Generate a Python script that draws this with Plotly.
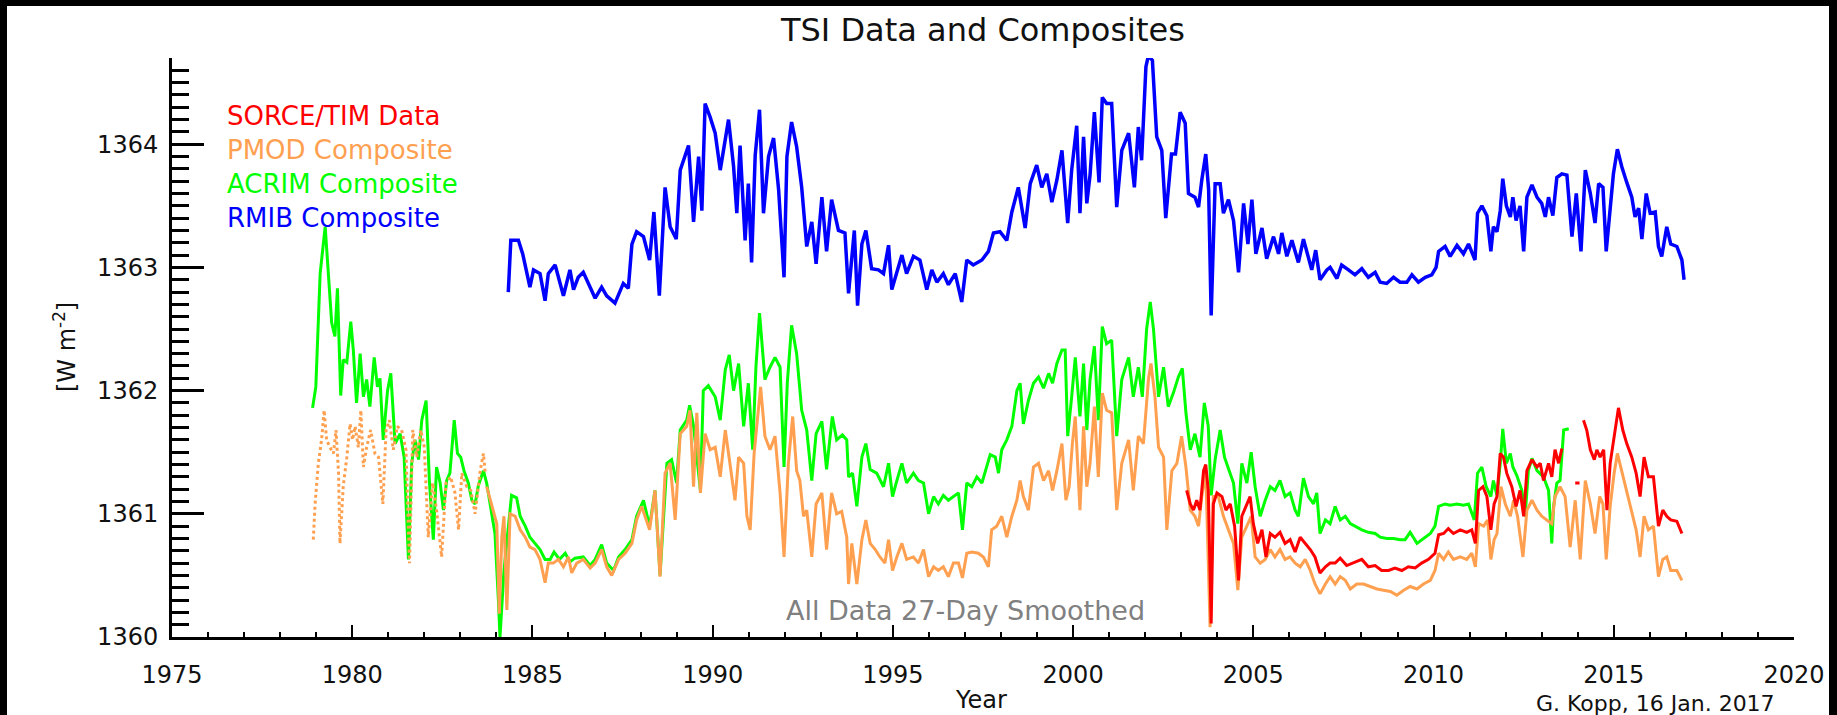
import plotly.graph_objects as go

# ---------------------------------------------------------------- data (W m^-2)
RMIB_YEAR = [1984.33, 1984.40, 1984.61, 1984.73, 1984.93, 1985.03, 1985.21, 1985.35, 1985.44, 1985.63,
             1985.86, 1986.04, 1986.14, 1986.27, 1986.41, 1986.60, 1986.74, 1986.92, 1987.06, 1987.29,
             1987.52, 1987.66, 1987.76, 1987.89, 1988.08, 1988.25, 1988.37, 1988.52, 1988.68, 1988.82,
             1988.99, 1989.10, 1989.33, 1989.47, 1989.61, 1989.70, 1989.79, 1989.93, 1990.07, 1990.21,
             1990.44, 1990.58, 1990.67, 1990.76, 1990.90, 1990.99, 1991.08, 1991.18, 1991.30, 1991.41,
             1991.55, 1991.69, 1991.83, 1991.98, 1992.06, 1992.19, 1992.33, 1992.47, 1992.61, 1992.75,
             1992.87, 1993.03, 1993.16, 1993.30, 1993.49, 1993.67, 1993.77, 1993.93, 1994.02, 1994.14,
             1994.25, 1994.41, 1994.60, 1994.74, 1994.88, 1994.97, 1995.11, 1995.25, 1995.38, 1995.57,
             1995.75, 1995.94, 1996.08, 1996.22, 1996.40, 1996.54, 1996.73, 1996.91, 1997.05, 1997.23,
             1997.47, 1997.65, 1997.79, 1997.97, 1998.16, 1998.30, 1998.48, 1998.67, 1998.81, 1998.99,
             1999.13, 1999.27, 1999.41, 1999.55, 1999.69, 1999.85, 1999.96, 2000.10, 2000.19, 2000.29,
             2000.38, 2000.47, 2000.59, 2000.72, 2000.81, 2000.93, 2001.07, 2001.21, 2001.35, 2001.54,
             2001.70, 2001.81, 2001.90, 2002.02, 2002.09, 2002.20, 2002.32, 2002.46, 2002.57, 2002.73,
             2002.84, 2002.97, 2003.11, 2003.20, 2003.38, 2003.48, 2003.57, 2003.68, 2003.76, 2003.83,
             2003.94, 2004.08, 2004.17, 2004.31, 2004.45, 2004.59, 2004.73, 2004.85, 2004.96, 2005.07,
             2005.24, 2005.37, 2005.56, 2005.70, 2005.79, 2005.93, 2006.07, 2006.25, 2006.39, 2006.53,
             2006.62, 2006.73, 2006.85, 2007.04, 2007.13, 2007.32, 2007.45, 2007.64, 2007.82, 2008.01,
             2008.19, 2008.38, 2008.52, 2008.70, 2008.89, 2009.07, 2009.26, 2009.40, 2009.58, 2009.77,
             2009.95, 2010.07, 2010.14, 2010.32, 2010.46, 2010.65, 2010.83, 2010.97, 2011.15, 2011.22,
             2011.34, 2011.48, 2011.59, 2011.66, 2011.76, 2011.85, 2011.92, 2012.02, 2012.13, 2012.20,
             2012.29, 2012.40, 2012.50, 2012.59, 2012.73, 2012.87, 2013.00, 2013.10, 2013.19, 2013.31,
             2013.42, 2013.56, 2013.70, 2013.84, 2013.96, 2014.09, 2014.21, 2014.35, 2014.48, 2014.58,
             2014.70, 2014.79, 2014.90, 2014.99, 2015.10, 2015.22, 2015.36, 2015.50, 2015.59, 2015.69,
             2015.78, 2015.90, 2016.01, 2016.15, 2016.24, 2016.33, 2016.47, 2016.58, 2016.75, 2016.89,
             2016.95]
RMIB_TSI = [1362.80, 1363.22, 1363.22, 1363.11, 1362.84, 1362.98, 1362.95, 1362.73, 1362.95, 1363.02,
            1362.77, 1362.98, 1362.82, 1362.92, 1362.96, 1362.84, 1362.75, 1362.84, 1362.77, 1362.71,
            1362.87, 1362.83, 1363.19, 1363.29, 1363.25, 1363.06, 1363.45, 1362.77, 1363.65, 1363.33,
            1363.23, 1363.79, 1363.99, 1363.37, 1363.90, 1363.46, 1364.33, 1364.22, 1364.09, 1363.79,
            1364.20, 1363.82, 1363.44, 1363.99, 1363.22, 1363.68, 1363.04, 1363.91, 1364.28, 1363.44,
            1363.90, 1364.05, 1363.63, 1362.92, 1363.90, 1364.18, 1363.98, 1363.65, 1363.17, 1363.37,
            1363.03, 1363.57, 1363.13, 1363.55, 1363.30, 1363.28, 1362.79, 1363.30, 1362.69, 1363.19,
            1363.30, 1362.99, 1362.98, 1362.95, 1363.18, 1362.82, 1362.95, 1363.10, 1362.95, 1363.09,
            1363.06, 1362.82, 1362.98, 1362.88, 1362.95, 1362.86, 1362.95, 1362.72, 1363.06, 1363.02,
            1363.06, 1363.13, 1363.28, 1363.29, 1363.22, 1363.45, 1363.65, 1363.32, 1363.68, 1363.83,
            1363.65, 1363.76, 1363.53, 1363.71, 1363.95, 1363.36, 1363.79, 1364.15, 1363.44, 1364.06,
            1363.52, 1363.75, 1364.26, 1363.69, 1364.38, 1364.33, 1364.33, 1363.49, 1363.95, 1364.09,
            1363.65, 1364.14, 1363.87, 1364.63, 1364.72, 1364.68, 1364.06, 1363.95, 1363.40, 1363.92,
            1363.92, 1364.26, 1364.17, 1363.60, 1363.57, 1363.49, 1363.71, 1363.92, 1363.63, 1362.61,
            1363.68, 1363.68, 1363.44, 1363.55, 1363.38, 1362.96, 1363.52, 1363.19, 1363.55, 1363.11,
            1363.32, 1363.07, 1363.25, 1363.11, 1363.28, 1363.09, 1363.22, 1363.04, 1363.23, 1363.09,
            1362.98, 1363.14, 1362.90, 1362.98, 1363.00, 1362.91, 1363.02, 1362.98, 1362.94, 1362.99,
            1362.92, 1362.96, 1362.88, 1362.87, 1362.92, 1362.88, 1362.88, 1362.94, 1362.88, 1362.92,
            1362.94, 1363.00, 1363.13, 1363.17, 1363.09, 1363.18, 1363.11, 1363.19, 1363.06, 1363.44,
            1363.50, 1363.42, 1363.13, 1363.33, 1363.29, 1363.46, 1363.72, 1363.50, 1363.41, 1363.57,
            1363.38, 1363.50, 1363.13, 1363.57, 1363.67, 1363.57, 1363.52, 1363.41, 1363.57, 1363.42,
            1363.73, 1363.76, 1363.75, 1363.25, 1363.60, 1363.13, 1363.79, 1363.60, 1363.36, 1363.68,
            1363.65, 1363.13, 1363.52, 1363.76, 1363.96, 1363.82, 1363.69, 1363.57, 1363.41, 1363.48,
            1363.23, 1363.60, 1363.44, 1363.45, 1363.17, 1363.09, 1363.33, 1363.19, 1363.17, 1363.06,
            1362.90]

ACRIM_YEAR = [1978.90, 1978.99, 1979.11, 1979.25, 1979.43, 1979.52, 1979.59, 1979.68, 1979.75, 1979.85,
              1979.96, 1980.03, 1980.12, 1980.22, 1980.31, 1980.40, 1980.49, 1980.61, 1980.70, 1980.77,
              1980.86, 1980.98, 1981.07, 1981.19, 1981.33, 1981.44, 1981.56, 1981.65, 1981.74, 1981.84,
              1981.93, 1982.05, 1982.14, 1982.25, 1982.34, 1982.44, 1982.53, 1982.62, 1982.71, 1982.83,
              1982.92, 1983.01, 1983.10, 1983.22, 1983.32, 1983.41, 1983.50, 1983.64, 1983.73, 1983.82,
              1983.96, 1984.06, 1984.10, 1984.21, 1984.31, 1984.42, 1984.56, 1984.66, 1984.80, 1984.93,
              1985.07, 1985.21, 1985.35, 1985.49, 1985.60, 1985.75, 1985.91, 1986.04, 1986.18, 1986.41,
              1986.60, 1986.74, 1986.92, 1987.06, 1987.25, 1987.39, 1987.57, 1987.76, 1987.89, 1988.08,
              1988.25, 1988.40, 1988.54, 1988.73, 1988.86, 1989.00, 1989.10, 1989.28, 1989.36, 1989.47,
              1989.66, 1989.74, 1989.88, 1990.07, 1990.21, 1990.35, 1990.46, 1990.58, 1990.72, 1990.86,
              1990.99, 1991.11, 1991.20, 1991.30, 1991.45, 1991.59, 1991.73, 1991.87, 1991.98, 1992.07,
              1992.19, 1992.33, 1992.47, 1992.61, 1992.75, 1992.87, 1993.03, 1993.16, 1993.32, 1993.44,
              1993.60, 1993.72, 1993.77, 1993.88, 1994.00, 1994.14, 1994.25, 1994.37, 1994.55, 1994.74,
              1994.88, 1994.99, 1995.11, 1995.25, 1995.38, 1995.57, 1995.71, 1995.85, 1995.99, 1996.13,
              1996.26, 1996.40, 1996.54, 1996.68, 1996.82, 1996.93, 1997.05, 1997.19, 1997.33, 1997.47,
              1997.60, 1997.70, 1997.84, 1997.93, 1998.02, 1998.16, 1998.30, 1998.44, 1998.53, 1998.62,
              1998.76, 1998.90, 1999.04, 1999.18, 1999.32, 1999.43, 1999.55, 1999.69, 1999.78, 1999.85,
              1999.96, 2000.06, 2000.19, 2000.29, 2000.38, 2000.47, 2000.59, 2000.70, 2000.81, 2000.93,
              2001.07, 2001.21, 2001.35, 2001.54, 2001.67, 2001.81, 2001.92, 2002.04, 2002.14, 2002.23,
              2002.37, 2002.51, 2002.64, 2002.78, 2002.92, 2003.03, 2003.13, 2003.25, 2003.38, 2003.52,
              2003.64, 2003.75, 2003.83, 2003.94, 2004.08, 2004.20, 2004.33, 2004.45, 2004.57, 2004.68,
              2004.82, 2004.94, 2005.05, 2005.19, 2005.33, 2005.47, 2005.60, 2005.74, 2005.88, 2006.02,
              2006.16, 2006.25, 2006.39, 2006.53, 2006.67, 2006.76, 2006.85, 2007.00, 2007.13, 2007.27,
              2007.41, 2007.55, 2007.69, 2007.82, 2008.01, 2008.19, 2008.38, 2008.52, 2008.70, 2008.89,
              2009.07, 2009.21, 2009.35, 2009.54, 2009.72, 2009.91, 2010.04, 2010.14, 2010.32, 2010.46,
              2010.65, 2010.83, 2010.97, 2011.13, 2011.22, 2011.34, 2011.46, 2011.59, 2011.66, 2011.76,
              2011.85, 2011.92, 2012.02, 2012.13, 2012.20, 2012.31, 2012.45, 2012.54, 2012.63, 2012.73,
              2012.87, 2013.05, 2013.19, 2013.28, 2013.33, 2013.42, 2013.51, 2013.61, 2013.75]
ACRIM_TSI = [1361.86, 1362.03, 1362.95, 1363.33, 1362.55, 1362.44, 1362.83, 1361.96, 1362.25, 1362.23,
             1362.56, 1362.33, 1361.90, 1362.30, 1361.95, 1362.09, 1361.87, 1362.27, 1362.03, 1362.10,
             1361.60, 1362.00, 1362.14, 1361.57, 1361.65, 1361.46, 1360.63, 1361.41, 1361.60, 1361.44,
             1361.76, 1361.92, 1361.27, 1360.79, 1361.38, 1361.25, 1361.03, 1361.27, 1361.33, 1361.76,
             1361.49, 1361.46, 1361.35, 1361.25, 1361.11, 1361.08, 1361.23, 1361.35, 1361.25, 1361.08,
             1360.84, 1360.27, 1360.00, 1360.54, 1360.81, 1361.15, 1361.13, 1360.98, 1360.90, 1360.81,
             1360.76, 1360.71, 1360.63, 1360.63, 1360.69, 1360.63, 1360.68, 1360.61, 1360.64, 1360.65,
             1360.58, 1360.63, 1360.75, 1360.60, 1360.54, 1360.65, 1360.71, 1360.79, 1360.98, 1361.11,
             1360.90, 1361.19, 1360.50, 1361.41, 1361.44, 1361.25, 1361.68, 1361.76, 1361.88, 1361.71,
             1361.19, 1362.00, 1362.04, 1361.95, 1361.76, 1362.17, 1362.29, 1362.00, 1362.22, 1361.71,
             1362.06, 1361.52, 1362.19, 1362.63, 1362.09, 1362.19, 1362.27, 1362.19, 1361.38, 1362.06,
             1362.53, 1362.30, 1361.84, 1361.68, 1361.27, 1361.65, 1361.75, 1361.36, 1361.79, 1361.60,
             1361.64, 1361.60, 1361.30, 1361.33, 1361.06, 1361.46, 1361.57, 1361.36, 1361.33, 1361.22,
             1361.41, 1361.14, 1361.27, 1361.41, 1361.25, 1361.33, 1361.27, 1361.25, 1361.00, 1361.14,
             1361.08, 1361.15, 1361.11, 1361.14, 1361.17, 1360.87, 1361.25, 1361.22, 1361.30, 1361.25,
             1361.38, 1361.48, 1361.46, 1361.33, 1361.52, 1361.60, 1361.71, 1362.00, 1362.06, 1361.73,
             1361.92, 1362.06, 1362.11, 1362.02, 1362.14, 1362.06, 1362.22, 1362.33, 1362.33, 1361.63,
             1361.95, 1362.27, 1361.79, 1362.22, 1361.68, 1362.09, 1362.36, 1361.76, 1362.52, 1362.38,
             1362.41, 1361.63, 1362.09, 1362.27, 1361.95, 1362.19, 1361.95, 1362.50, 1362.72, 1362.50,
             1361.95, 1362.19, 1361.87, 1361.98, 1362.11, 1362.18, 1361.82, 1361.52, 1361.65, 1361.46,
             1361.90, 1361.71, 1361.15, 1361.44, 1361.68, 1361.46, 1361.35, 1361.25, 1360.92, 1361.41,
             1361.25, 1361.50, 1361.22, 1360.98, 1361.11, 1361.22, 1361.19, 1361.27, 1361.14, 1361.17,
             1361.03, 1360.98, 1361.29, 1361.14, 1361.08, 1361.17, 1360.84, 1360.95, 1360.92, 1361.06,
             1360.95, 1360.98, 1360.92, 1360.90, 1360.87, 1360.85, 1360.84, 1360.81, 1360.80, 1360.80,
             1360.79, 1360.79, 1360.85, 1360.76, 1360.80, 1360.84, 1360.90, 1361.06, 1361.08, 1361.07,
             1361.08, 1361.07, 1361.08, 1360.95, 1361.33, 1361.38, 1361.22, 1361.14, 1361.27, 1361.15,
             1361.41, 1361.69, 1361.41, 1361.49, 1361.38, 1361.31, 1361.19, 1360.98, 1361.35, 1361.45,
             1361.35, 1361.30, 1361.19, 1360.76, 1361.06, 1361.25, 1361.27, 1361.68, 1361.69]

# PMOD: early sparse portion (drawn dotted) and the continuous record
PMOD_EARLY_YEAR = [1978.92, 1978.97, 1979.06, 1979.15, 1979.22, 1979.29, 1979.38, 1979.48, 1979.55, 1979.62,
                   1979.66, 1979.75, 1979.85, 1979.94, 1980.01, 1980.08, 1980.17, 1980.24, 1980.31, 1980.40,
                   1980.51, 1980.63, 1980.73, 1980.85, 1980.94, 1981.03, 1981.14, 1981.25, 1981.37, 1981.49,
                   1981.59, 1981.68, 1981.79, 1981.90, 1982.00, 1982.11, 1982.23, 1982.34, 1982.48, 1982.60,
                   1982.73, 1982.85, 1982.95, 1983.04, 1983.18, 1983.29, 1983.41, 1983.55, 1983.64, 1983.69]
PMOD_EARLY_TSI = [1360.79, 1361.08, 1361.41, 1361.60, 1361.84, 1361.60, 1361.54, 1361.49, 1361.68, 1361.33,
                  1360.76, 1361.22, 1361.46, 1361.73, 1361.60, 1361.71, 1361.54, 1361.84, 1361.38, 1361.54,
                  1361.68, 1361.49, 1361.46, 1361.08, 1361.68, 1361.76, 1361.52, 1361.71, 1361.68, 1361.52,
                  1360.60, 1361.68, 1361.46, 1361.68, 1361.54, 1360.81, 1361.25, 1361.03, 1360.65, 1361.25,
                  1361.30, 1361.17, 1360.87, 1361.33, 1361.22, 1361.19, 1361.00, 1361.35, 1361.49, 1361.33]

PMOD_YEAR = [1983.73, 1983.87, 1984.01, 1984.08, 1984.15, 1984.21, 1984.29, 1984.38, 1984.52, 1984.66,
             1984.80, 1984.93, 1985.07, 1985.21, 1985.35, 1985.44, 1985.58, 1985.72, 1985.86, 1986.00,
             1986.09, 1986.23, 1986.41, 1986.60, 1986.74, 1986.92, 1987.06, 1987.20, 1987.39, 1987.57,
             1987.76, 1987.89, 1988.03, 1988.25, 1988.40, 1988.54, 1988.68, 1988.82, 1988.96, 1989.10,
             1989.28, 1989.37, 1989.47, 1989.56, 1989.66, 1989.79, 1989.93, 1990.07, 1990.21, 1990.35,
             1990.48, 1990.62, 1990.72, 1990.86, 1990.95, 1991.04, 1991.15, 1991.27, 1991.33, 1991.45,
             1991.59, 1991.73, 1991.87, 1991.98, 1992.10, 1992.22, 1992.33, 1992.42, 1992.52, 1992.61,
             1992.75, 1992.87, 1993.03, 1993.16, 1993.30, 1993.44, 1993.58, 1993.72, 1993.77, 1993.86,
             1994.00, 1994.14, 1994.25, 1994.37, 1994.51, 1994.64, 1994.78, 1994.88, 1994.99, 1995.11,
             1995.25, 1995.38, 1995.57, 1995.71, 1995.85, 1995.99, 1996.13, 1996.26, 1996.40, 1996.54,
             1996.68, 1996.82, 1996.93, 1997.05, 1997.19, 1997.37, 1997.51, 1997.65, 1997.74, 1997.88,
             1998.02, 1998.16, 1998.30, 1998.44, 1998.53, 1998.62, 1998.76, 1998.90, 1999.04, 1999.18,
             1999.32, 1999.43, 1999.55, 1999.69, 1999.80, 1999.89, 1999.98, 2000.06, 2000.19, 2000.29,
             2000.38, 2000.47, 2000.59, 2000.70, 2000.81, 2000.93, 2001.07, 2001.21, 2001.35, 2001.54,
             2001.67, 2001.81, 2001.95, 2002.09, 2002.16, 2002.27, 2002.37, 2002.51, 2002.60, 2002.74,
             2002.88, 2003.01, 2003.13, 2003.25, 2003.38, 2003.48, 2003.57, 2003.68, 2003.80, 2003.89,
             2004.03, 2004.17, 2004.31, 2004.45, 2004.57, 2004.68, 2004.82, 2004.94, 2005.05, 2005.19,
             2005.33, 2005.47, 2005.60, 2005.74, 2005.88, 2006.02, 2006.16, 2006.30, 2006.44, 2006.58,
             2006.71, 2006.85, 2007.00, 2007.13, 2007.27, 2007.41, 2007.55, 2007.69, 2007.87, 2008.06,
             2008.24, 2008.43, 2008.61, 2008.80, 2008.98, 2009.17, 2009.35, 2009.54, 2009.72, 2009.91,
             2010.04, 2010.14, 2010.28, 2010.41, 2010.55, 2010.74, 2010.92, 2011.06, 2011.16, 2011.25,
             2011.39, 2011.50, 2011.59, 2011.68, 2011.76, 2011.87, 2011.99, 2012.13, 2012.22, 2012.33,
             2012.48, 2012.59, 2012.73, 2012.87, 2013.00, 2013.14, 2013.28, 2013.37, 2013.51, 2013.65,
             2013.79, 2013.93, 2014.07, 2014.21, 2014.35, 2014.48, 2014.61, 2014.70, 2014.79, 2014.90,
             2015.01, 2015.10, 2015.22, 2015.36, 2015.50, 2015.62, 2015.73, 2015.84, 2015.96, 2016.10,
             2016.24, 2016.36, 2016.47, 2016.58, 2016.75, 2016.89]
PMOD_TSI = [1361.22, 1361.08, 1360.92, 1360.19, 1360.81, 1360.98, 1360.22, 1361.00, 1360.98, 1360.87,
            1360.81, 1360.73, 1360.71, 1360.63, 1360.44, 1360.60, 1360.60, 1360.63, 1360.57, 1360.65,
            1360.52, 1360.60, 1360.63, 1360.56, 1360.60, 1360.71, 1360.57, 1360.50, 1360.63, 1360.68,
            1360.76, 1360.95, 1361.06, 1360.87, 1361.19, 1360.49, 1361.33, 1361.41, 1360.95, 1361.65,
            1361.71, 1361.84, 1361.22, 1361.82, 1361.17, 1361.65, 1361.52, 1361.54, 1361.30, 1361.68,
            1361.41, 1361.11, 1361.46, 1361.41, 1360.98, 1360.87, 1361.49, 1361.82, 1362.03, 1361.63,
            1361.52, 1361.63, 1361.17, 1360.65, 1361.41, 1361.79, 1361.35, 1361.27, 1360.98, 1361.03,
            1360.65, 1361.08, 1361.17, 1360.71, 1361.17, 1361.00, 1361.02, 1360.81, 1360.43, 1360.76,
            1360.43, 1360.79, 1360.95, 1360.76, 1360.71, 1360.65, 1360.60, 1360.79, 1360.54, 1360.65,
            1360.76, 1360.63, 1360.65, 1360.60, 1360.71, 1360.49, 1360.57, 1360.54, 1360.57, 1360.49,
            1360.60, 1360.60, 1360.48, 1360.68, 1360.69, 1360.68, 1360.65, 1360.57, 1360.87, 1360.90,
            1360.98, 1360.81, 1360.98, 1361.11, 1361.27, 1361.14, 1361.03, 1361.38, 1361.41, 1361.27,
            1361.35, 1361.19, 1361.35, 1361.57, 1361.11, 1361.22, 1361.57, 1361.79, 1361.03, 1361.71,
            1361.22, 1361.41, 1361.87, 1361.30, 1361.98, 1361.84, 1361.82, 1361.03, 1361.41, 1361.60,
            1361.19, 1361.63, 1361.57, 1362.09, 1362.22, 1361.95, 1361.54, 1361.46, 1360.87, 1361.35,
            1361.41, 1361.63, 1361.38, 1361.03, 1360.98, 1360.90, 1361.14, 1361.35, 1360.08, 1361.14,
            1361.14, 1360.98, 1360.87, 1360.76, 1360.38, 1360.81, 1360.90, 1360.98, 1360.65, 1360.60,
            1360.63, 1360.71, 1360.65, 1360.71, 1360.63, 1360.65, 1360.60, 1360.57, 1360.63, 1360.54,
            1360.43, 1360.35, 1360.43, 1360.49, 1360.43, 1360.49, 1360.46, 1360.39, 1360.43, 1360.43,
            1360.41, 1360.39, 1360.38, 1360.37, 1360.34, 1360.38, 1360.41, 1360.39, 1360.43, 1360.46,
            1360.54, 1360.68, 1360.63, 1360.69, 1360.63, 1360.65, 1360.63, 1360.68, 1360.57, 1360.92,
            1360.90, 1360.95, 1360.63, 1360.79, 1360.84, 1361.22, 1361.08, 1360.98, 1361.11, 1360.98,
            1360.65, 1361.03, 1361.11, 1361.03, 1360.98, 1360.95, 1360.92, 1361.14, 1361.22, 1361.14,
            1360.73, 1361.11, 1360.63, 1361.27, 1361.08, 1360.84, 1361.14, 1361.08, 1360.63, 1361.06,
            1361.33, 1361.49, 1361.35, 1361.19, 1361.03, 1360.87, 1360.65, 1360.98, 1360.87, 1360.90,
            1360.49, 1360.63, 1360.65, 1360.54, 1360.54, 1360.46]

# SORCE/TIM (None marks the gap in the record)
TIM_YEAR = [2003.15, 2003.25, 2003.34, 2003.43, 2003.52, 2003.62, 2003.68, 2003.75, 2003.83, 2003.89,
            2003.99, 2004.13, 2004.24, 2004.36, 2004.48, 2004.59, 2004.68, 2004.79, 2004.91, 2005.00,
            2005.12, 2005.24, 2005.35, 2005.47, 2005.60, 2005.74, 2005.88, 2006.02, 2006.16, 2006.30,
            2006.44, 2006.58, 2006.71, 2006.85, 2007.00, 2007.13, 2007.27, 2007.41, 2007.59, 2007.78,
            2008.01, 2008.19, 2008.38, 2008.56, 2008.75, 2008.93, 2009.12, 2009.30, 2009.49, 2009.67,
            2009.86, 2010.04, 2010.14, 2010.28, 2010.41, 2010.55, 2010.74, 2010.92, 2011.06, 2011.16,
            2011.25, 2011.37, 2011.48, 2011.59, 2011.68, 2011.76, 2011.85, 2011.94, 2012.03, 2012.17,
            2012.29, 2012.40, 2012.50, 2012.59, 2012.73, 2012.87, 2012.96, 2013.05, 2013.19, 2013.28,
            2013.37, 2013.47, 2013.56, None, 2013.93, 2014.05, None, 2014.16, 2014.25, 2014.35,
            2014.46, 2014.53, 2014.62, 2014.72, 2014.81, 2014.90, 2015.01, 2015.13, 2015.25, 2015.36,
            2015.50, 2015.62, 2015.73, 2015.84, 2015.96, 2016.10, 2016.24, 2016.36, 2016.47, 2016.58,
            2016.75, 2016.89]
TIM_TSI = [1361.19, 1361.08, 1361.03, 1361.11, 1361.03, 1361.35, 1361.40, 1361.19, 1360.11, 1361.08,
           1361.17, 1361.14, 1361.03, 1361.08, 1360.90, 1360.46, 1360.98, 1361.06, 1361.14, 1360.92,
           1360.76, 1360.87, 1360.65, 1360.84, 1360.81, 1360.85, 1360.76, 1360.79, 1360.69, 1360.81,
           1360.76, 1360.71, 1360.65, 1360.52, 1360.57, 1360.60, 1360.60, 1360.64, 1360.58, 1360.60,
           1360.63, 1360.57, 1360.58, 1360.54, 1360.54, 1360.56, 1360.54, 1360.57, 1360.56, 1360.60,
           1360.63, 1360.68, 1360.83, 1360.84, 1360.88, 1360.84, 1360.87, 1360.85, 1360.87, 1360.76,
           1361.19, 1361.22, 1361.14, 1360.87, 1361.08, 1361.14, 1361.49, 1361.46, 1361.33, 1361.22,
           1361.06, 1361.19, 1360.98, 1361.35, 1361.44, 1361.38, 1361.41, 1361.27, 1361.41, 1361.30,
           1361.52, 1361.41, 1361.53, None, 1361.25, 1361.25, None, 1361.76, 1361.68, 1361.52,
           1361.44, 1361.52, 1361.46, 1361.52, 1361.03, 1361.41, 1361.63, 1361.86, 1361.68, 1361.57,
           1361.46, 1361.33, 1361.14, 1361.46, 1361.30, 1361.30, 1360.90, 1361.03, 1360.98, 1360.95,
           1360.94, 1360.84]

LEGEND_ITEMS = [("SORCE/TIM Data", "#ff0000"), ("PMOD Composite", "#ffa050"),
                ("ACRIM Composite", "#00ff00"), ("RMIB Composite", "#0000ff")]

# ---------------------------------------------------------------- layout geometry (pixels)
W, H = 1837, 715
L, R, T, B = 172, 43, 58, 78
PW, PH = W - L - R, H - T - B


def px(x):
    return (x - L) / PW


def py(y):
    return (H - B - y) / PH


FONT = "DejaVu Sans"
INK = "#111111"
RED, ORANGE, GREEN, BLUE = (c for _, c in LEGEND_ITEMS)

fig = go.Figure()
fig.add_trace(go.Scatter(x=ACRIM_YEAR, y=ACRIM_TSI, mode="lines",
                         line=dict(color=GREEN, width=3), showlegend=False))
fig.add_trace(go.Scatter(x=PMOD_EARLY_YEAR, y=PMOD_EARLY_TSI, mode="lines",
                         line=dict(color=ORANGE, width=3, dash="dot"), showlegend=False))
fig.add_trace(go.Scatter(x=PMOD_YEAR, y=PMOD_TSI, mode="lines",
                         line=dict(color=ORANGE, width=3), showlegend=False))
fig.add_trace(go.Scatter(x=TIM_YEAR, y=TIM_TSI, mode="lines", connectgaps=False,
                         line=dict(color=RED, width=3), showlegend=False))
fig.add_trace(go.Scatter(x=RMIB_YEAR, y=RMIB_TSI, mode="lines",
                         line=dict(color=BLUE, width=3.5), showlegend=False))

annotations = [
    dict(text="TSI Data and Composites", x=px(982), y=py(30), font=dict(size=32, color=INK)),
    dict(text="All Data 27-Day Smoothed", x=px(965), y=py(610), font=dict(size=27, color="#808080")),
    dict(text="Year", x=px(981), y=py(700), font=dict(size=24, color=INK)),
    dict(text="G. Kopp, 16 Jan. 2017", x=px(1655), y=py(703), font=dict(size=22, color=INK)),
    dict(text="[W m<sup>-2</sup>]", x=px(65), y=py(347), textangle=-90, font=dict(size=24, color=INK)),
]
for i, (label, color) in enumerate(LEGEND_ITEMS):
    annotations.append(dict(text=label, x=px(225), y=py(116 + 34 * i), xanchor="left",
                            font=dict(size=26, color=color)))
for a in annotations:
    a.update(xref="paper", yref="paper", showarrow=False)
    a.setdefault("xanchor", "center")
    a.setdefault("yanchor", "middle")

fig.update_layout(
    width=W, height=H,
    margin=dict(l=L, r=R, t=T, b=B, pad=0),
    paper_bgcolor="black",
    plot_bgcolor="white",
    font=dict(family=FONT, color=INK, size=24),
    annotations=annotations,
    shapes=[dict(type="rect", xref="paper", yref="paper", layer="below",
                 x0=px(7), x1=px(1829), y0=py(H + 10), y1=py(6),
                 fillcolor="white", line=dict(width=0))],
    xaxis=dict(range=[1975, 2020], dtick=5, tick0=1975, ticks="inside", ticklen=12,
               tickwidth=2, tickcolor="black", showline=True, linewidth=3, linecolor="black",
               showgrid=False, zeroline=False, ticklabelstandoff=14,
               tickfont=dict(size=24, color=INK),
               minor=dict(dtick=1, ticks="inside", ticklen=5, tickwidth=2, tickcolor="black",
                          showgrid=False)),
    yaxis=dict(range=[1360, 1364.7], dtick=1, tick0=1360, ticks="inside", ticklen=32,
               tickwidth=3, tickcolor="black", showline=True, linewidth=3, linecolor="black",
               showgrid=False, zeroline=False, ticklabelstandoff=6,
               tickfont=dict(size=24, color=INK),
               minor=dict(dtick=0.1, ticks="inside", ticklen=17, tickwidth=3, tickcolor="black",
                          showgrid=False)),
)

fig.write_html("out.html")
